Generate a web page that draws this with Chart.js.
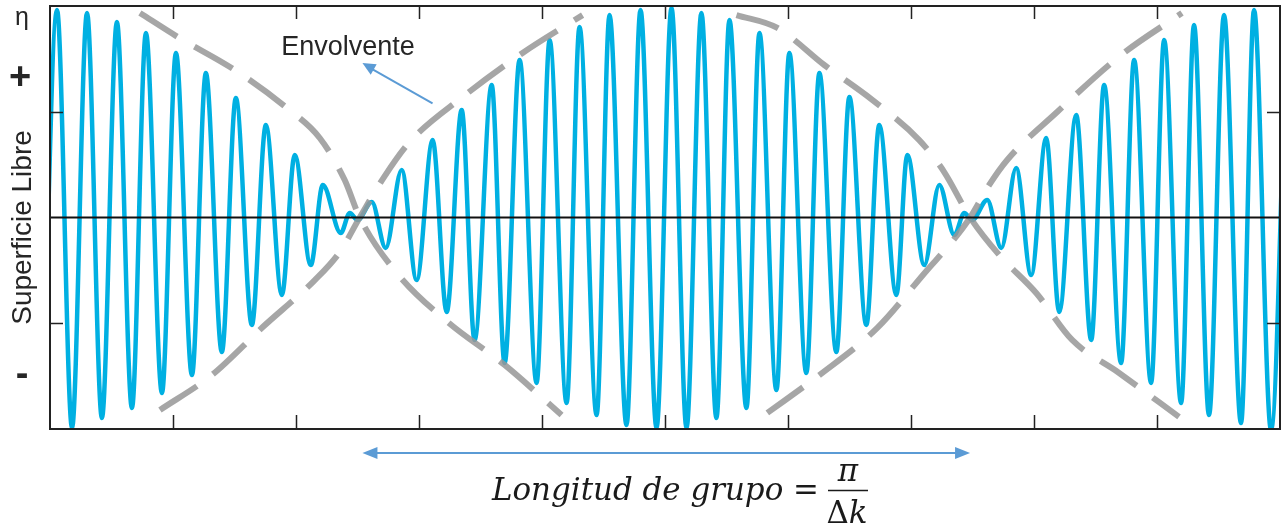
<!DOCTYPE html>
<html>
<head>
<meta charset="utf-8">
<script src="https://cdn.jsdelivr.net/npm/chart.js@4.4.1/dist/chart.umd.min.js"></script>
<style>
  html, body { margin: 0; padding: 0; background: #fff; }
  #wrap { width: 1283px; height: 531px; position: relative; }
</style>
</head>
<body>
<div id="wrap"><canvas id="beatChart"></canvas></div>
<script>
// Crests and troughs of the free surface
// (x in tick units 0..10, y in amplitude units -1..1)
const waveX = [
  -0.065, 0.057, 0.179, 0.301, 0.422, 0.544, 0.666, 0.780, 0.910, 1.024,
  1.154, 1.267, 1.397, 1.511, 1.641, 1.755, 1.885, 1.990, 2.120, 2.218,
  2.364, 2.437, 2.502, 2.616, 2.729, 2.859, 2.981, 3.111, 3.225, 3.347,
  3.452, 3.591, 3.696, 3.818, 3.956, 4.062, 4.200, 4.305, 4.444, 4.549,
  4.687, 4.801, 4.931, 5.053, 5.175, 5.296, 5.418, 5.524, 5.662, 5.768,
  5.906, 6.011, 6.149, 6.255, 6.393, 6.499, 6.637, 6.742, 6.881, 6.970,
  7.108, 7.230, 7.352, 7.433, 7.498, 7.620, 7.734, 7.855, 7.977, 8.099,
  8.205, 8.343, 8.465, 8.570, 8.708, 8.814, 8.952, 9.058, 9.196, 9.301,
  9.423, 9.545, 9.683, 9.789, 9.927, 10.057
];
const waveY = [
  -1.005, 0.981, -0.995, 0.967, -0.948, 0.924, -0.901, 0.872, -0.830, 0.778,
  -0.745, 0.683, -0.636, 0.565, -0.508, 0.437, -0.366, 0.296, -0.225, 0.154,
  -0.073, 0.021, -0.012, 0.073, -0.144, 0.225, -0.296, 0.366, -0.447, 0.508,
  -0.579, 0.626, -0.688, 0.745, -0.782, 0.839, -0.877, 0.901, -0.934, 0.957,
  -0.981, 0.981, -0.995, 0.991, -0.995, 0.967, -0.948, 0.934, -0.901, 0.872,
  -0.816, 0.778, -0.735, 0.683, -0.636, 0.570, -0.508, 0.437, -0.366, 0.296,
  -0.225, 0.154, -0.083, 0.021, -0.012, 0.083, -0.144, 0.234, -0.272, 0.376,
  -0.447, 0.485, -0.579, 0.626, -0.688, 0.745, -0.782, 0.839, -0.877, 0.910,
  -0.934, 0.957, -0.972, 0.981, -1.005, 0.981
];

// Envelope: two dashed curves crossing at the nodes, each in two pieces
const envA1X = [0.731, 1.040, 1.503, 1.925, 2.193, 2.396, 2.518, 2.819, 3.233, 3.696, 4.159];
const envA1Y = [0.967, 0.853, 0.697, 0.518, 0.376, 0.177, 0.000, -0.262, -0.494, -0.697, -0.934];
const envA2X = [5.832, 6.255, 6.726, 7.132, 7.311, 7.481, 7.636, 7.782, 8.188, 8.708, 9.203];
const envA2Y = [-0.924, -0.745, -0.522, -0.248, -0.130, 0.000, 0.154, 0.272, 0.499, 0.768, 0.967];
const envB1X = [0.894, 1.316, 1.730, 2.153, 2.356, 2.518, 2.721, 2.924, 3.355, 3.842, 4.330];
const envB1Y = [-0.910, -0.745, -0.518, -0.296, -0.163, 0.000, 0.196, 0.357, 0.570, 0.778, 0.957];
const envB2X = [5.581, 5.914, 6.295, 6.685, 7.067, 7.270, 7.481, 7.717, 8.018, 8.310, 8.692, 9.179];
const envB2Y = [0.957, 0.896, 0.721, 0.556, 0.366, 0.215, 0.000, -0.177, -0.357, -0.579, -0.735, -0.943];

const xTicks = [1, 2, 3, 4, 5, 6, 7, 8, 9];
const yTicks = [-0.5, 0.5];
const groupNodes = [2.54, 7.48];

function pairs(xs, ys) {
  return xs.map((x, i) => ({ x: x, y: ys[i] }));
}

function envelope(xs, ys) {
  return {
    data: pairs(xs, ys),
    borderColor: 'rgba(150,150,150,0.85)',
    borderWidth: 6,
    borderDash: [44, 20],
    cubicInterpolationMode: 'monotone',
    pointRadius: 0,
    order: 1
  };
}

function arrowHead(ctx, x1, y1, x2, y2, len, half) {
  const a = Math.atan2(y2 - y1, x2 - x1);
  ctx.beginPath();
  ctx.moveTo(x2, y2);
  ctx.lineTo(x2 - len * Math.cos(a) + half * Math.sin(a), y2 - len * Math.sin(a) - half * Math.cos(a));
  ctx.lineTo(x2 - len * Math.cos(a) - half * Math.sin(a), y2 - len * Math.sin(a) + half * Math.cos(a));
  ctx.closePath();
  ctx.fill();
}

// frame, inner ticks, zero line and the annotations
const decor = {
  id: 'decor',
  afterDatasetsDraw(chart) {
    const ctx = chart.ctx;
    const a = chart.chartArea;
    const xs = chart.scales.x, ys = chart.scales.y;
    ctx.save();
    ctx.strokeStyle = '#111';
    ctx.lineWidth = 2;
    ctx.beginPath();
    ctx.moveTo(a.left, ys.getPixelForValue(0));
    ctx.lineTo(a.right, ys.getPixelForValue(0));
    ctx.stroke();

    ctx.lineWidth = 1.5;
    ctx.strokeStyle = '#222';
    xTicks.forEach(v => {
      const px = Math.round(xs.getPixelForValue(v)) + 0.5;
      ctx.beginPath();
      ctx.moveTo(px, a.bottom); ctx.lineTo(px, a.bottom - 14);
      ctx.moveTo(px, a.top); ctx.lineTo(px, a.top + 13);
      ctx.stroke();
    });
    yTicks.forEach(v => {
      const py = Math.round(ys.getPixelForValue(v)) + 0.5;
      ctx.beginPath();
      ctx.moveTo(a.left, py); ctx.lineTo(a.left + 13, py);
      ctx.moveTo(a.right, py); ctx.lineTo(a.right - 13, py);
      ctx.stroke();
    });
    ctx.lineWidth = 2;
    ctx.strokeRect(a.left, a.top, a.right - a.left, a.bottom - a.top);
    ctx.restore();
  },
  afterDraw(chart) {
    const ctx = chart.ctx;
    const a = chart.chartArea;
    const xs = chart.scales.x, ys = chart.scales.y;
    ctx.save();
    ctx.fillStyle = '#262626';

    // axis label and signs
    ctx.font = '25px "Liberation Sans", Arial, sans-serif';
    ctx.textAlign = 'center';
    ctx.fillText('η', 22, 25);
    ctx.font = 'bold 38px "Liberation Sans", Arial, sans-serif';
    ctx.fillText('+', 20, 89);
    ctx.fillText('-', 22, 386);
    ctx.save();
    ctx.translate(31, (a.top + a.bottom) / 2 + 10);
    ctx.rotate(-Math.PI / 2);
    ctx.font = '28px "Liberation Sans", Arial, sans-serif';
    ctx.fillText('Superficie Libre', 0, 0);
    ctx.restore();

    // "Envolvente" callout
    ctx.textAlign = 'left';
    ctx.font = '27px "Liberation Sans", Arial, sans-serif';
    ctx.fillText('Envolvente', xs.getPixelForValue(1.88), ys.getPixelForValue(0.77));
    const tx = xs.getPixelForValue(3.11), ty = ys.getPixelForValue(0.54);
    const hx = xs.getPixelForValue(2.54), hy = ys.getPixelForValue(0.73);
    ctx.strokeStyle = '#5b9bd5';
    ctx.fillStyle = '#5b9bd5';
    ctx.lineWidth = 2;
    ctx.beginPath();
    ctx.moveTo(tx, ty); ctx.lineTo(hx + 8, hy + 5);
    ctx.stroke();
    arrowHead(ctx, tx, ty, hx, hy, 13, 6);

    // group length arrow
    const gx1 = xs.getPixelForValue(groupNodes[0]);
    const gx2 = xs.getPixelForValue(groupNodes[1]);
    const gy = a.bottom + 24;
    ctx.beginPath();
    ctx.moveTo(gx1 + 10, gy); ctx.lineTo(gx2 - 10, gy);
    ctx.stroke();
    arrowHead(ctx, gx2, gy, gx1, gy, 15, 6);
    arrowHead(ctx, gx1, gy, gx2, gy, 15, 6);

    // formula
    ctx.fillStyle = '#1a1a1a';
    ctx.font = 'italic 28px "DejaVu Serif", serif';
    const w = ctx.measureText('Longitud de grupo').width;
    const fs = 28 * 291 / w;
    ctx.font = 'italic ' + fs.toFixed(1) + 'px "DejaVu Serif", serif';
    ctx.textAlign = 'left';
    ctx.fillText('Longitud de grupo', 492, 500);
    ctx.textAlign = 'center';
    ctx.font = fs.toFixed(1) + 'px "DejaVu Serif", serif';
    ctx.fillText('=', 806, 500);
    ctx.font = 'italic ' + fs.toFixed(1) + 'px "DejaVu Serif", serif';
    ctx.fillText('π', 848, 481);
    ctx.strokeStyle = '#1a1a1a';
    ctx.lineWidth = 1.5;
    ctx.beginPath();
    ctx.moveTo(828, 490.5); ctx.lineTo(868, 490.5);
    ctx.stroke();
    ctx.font = fs.toFixed(1) + 'px "DejaVu Serif", serif';
    const wd = ctx.measureText('Δ').width;
    ctx.font = 'italic ' + fs.toFixed(1) + 'px "DejaVu Serif", serif';
    const wk = ctx.measureText('k').width;
    const sx = 847 - (wd + wk) / 2;
    ctx.textAlign = 'left';
    ctx.font = fs.toFixed(1) + 'px "DejaVu Serif", serif';
    ctx.fillText('Δ', sx, 523);
    ctx.font = 'italic ' + fs.toFixed(1) + 'px "DejaVu Serif", serif';
    ctx.fillText('k', sx + wd, 523);
    ctx.restore();
  }
};

const ctx = document.getElementById('beatChart').getContext('2d');
const beatChart = new Chart(ctx, {
  type: 'line',
  data: {
    datasets: [
      {
        data: pairs(waveX, waveY),
        borderColor: '#00b0e2',
        borderWidth: 4.5,
        cubicInterpolationMode: 'monotone',
        pointRadius: 0,
        order: 2
      },
      envelope(envA1X, envA1Y),
      envelope(envA2X, envA2Y),
      envelope(envB1X, envB1Y),
      envelope(envB2X, envB2Y)
    ]
  },
  options: {
    responsive: true,
    maintainAspectRatio: false,
    animation: false,
    layout: { padding: { left: 50, top: 6, right: 3, bottom: 102 } },
    plugins: {
      legend: { display: false },
      tooltip: { enabled: false }
    },
    scales: {
      x: { type: 'linear', min: 0, max: 10, display: false },
      y: { type: 'linear', min: -1, max: 1, display: false }
    }
  },
  plugins: [decor]
});
</script>
</body>
</html>
